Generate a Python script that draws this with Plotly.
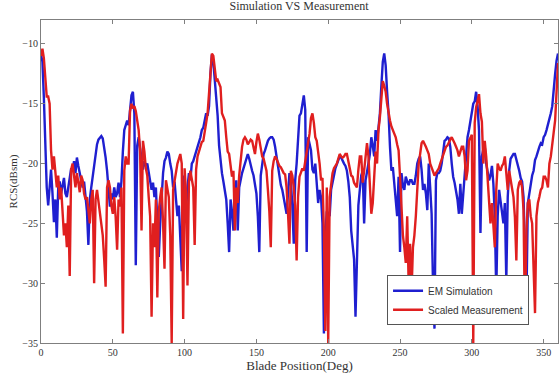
import plotly.graph_objects as go

deg = list(range(0, 361))

em_simulation = [
    -10.9, -11.5, -14.5, -18.0, -22.0, -23.5, -21.5, -20.5, -22.5, -24.9,
    -23.0, -26.2, -22.0, -21.5, -22.5, -21.8, -21.2, -22.5, -22.8, -22.0,
    -21.0, -20.4, -20.6, -19.8, -20.8, -19.5, -20.2, -20.8, -21.4, -22.0,
    -21.5, -22.5, -24.0, -26.8, -23.0, -22.0, -21.0, -20.0, -19.0, -18.4,
    -18.0, -17.8, -17.7, -17.9, -18.6, -19.5, -20.6, -22.0, -23.6, -22.5,
    -23.0, -22.0, -22.8, -22.5, -21.6, -22.8, -21.5, -19.0, -17.2, -16.8,
    -16.4, -16.8, -15.5, -14.3, -14.0, -15.8, -28.5, -18.5, -17.8, -18.6,
    -19.5, -20.5, -19.8, -20.2, -20.0, -20.8, -21.5, -22.2, -21.6, -22.8,
    -22.0, -24.5, -27.8, -25.0, -22.5, -20.8, -19.8, -19.5, -19.0, -19.2,
    -20.0, -20.6, -22.0, -21.5, -23.0, -24.4, -23.5, -27.0, -29.0, -21.0,
    -22.5, -23.9, -22.0, -20.8, -21.4, -20.0, -19.8, -19.4, -19.0, -18.8,
    -18.2, -17.8, -17.2, -17.0, -16.4, -15.8, -16.0, -15.2, -12.5, -10.9,
    -11.5, -12.8, -14.5, -16.0, -18.5, -20.0, -20.8, -21.5, -22.5, -23.0,
    -25.0, -27.4, -23.0, -24.0, -25.6, -22.5, -21.4, -25.6, -22.0, -21.2,
    -20.8, -20.4, -20.0, -19.6, -19.2, -19.6, -20.2, -20.6, -21.0, -21.7,
    -22.5, -24.4, -27.4, -21.0, -20.0, -19.2, -18.9, -18.4, -18.1, -17.9,
    -17.8, -17.8, -18.0, -18.6, -19.4, -20.6, -21.2, -21.8, -22.2, -22.8,
    -23.3, -24.2, -22.5, -20.8, -21.5, -23.5, -26.7, -21.4, -20.0, -17.5,
    -16.0, -15.8, -14.8, -14.3, -15.5, -27.4, -17.8, -18.3, -18.9, -20.5,
    -20.8, -20.0, -21.5, -23.3, -22.2, -22.8, -25.0, -34.2, -26.0, -24.0,
    -24.2, -24.4, -22.2, -21.4, -21.0, -20.4, -20.0, -19.6, -19.4, -19.5,
    -19.8, -20.0, -20.2, -20.6, -21.5, -22.8, -25.6, -27.0, -28.0, -32.8,
    -27.0, -23.5, -22.2, -21.0, -20.6, -25.0, -21.4, -20.8, -20.0, -19.2,
    -17.8, -18.5, -19.4, -17.2, -18.1, -17.0, -15.8, -13.5, -11.5, -10.8,
    -11.8, -14.0, -15.8, -18.6, -20.6, -20.3, -21.8, -22.8, -24.4, -21.1,
    -27.4, -20.8, -21.8, -22.2, -21.1, -21.5, -21.8, -21.4, -21.4, -21.7,
    -21.7, -21.0, -20.0, -19.6, -19.4, -20.5, -22.2, -21.7, -22.5, -23.9,
    -20.0, -22.0, -24.2, -30.3, -33.8, -21.4, -20.8, -20.8, -20.6, -20.0,
    -19.0, -18.1, -18.0, -17.8, -17.9, -18.6, -20.0, -21.1, -21.6, -22.2,
    -23.0, -24.2, -21.7, -24.2, -22.2, -21.0, -19.4, -17.8, -17.2, -16.5,
    -15.8, -15.0, -14.8, -14.0, -15.2, -17.2, -25.8, -19.4, -18.8, -18.6,
    -20.0, -20.6, -21.4, -21.0, -20.2, -21.7, -24.4, -30.8, -24.4, -22.2,
    -23.0, -23.9, -25.0, -23.3, -29.8, -22.8, -20.6, -19.6, -19.4, -19.2,
    -19.2, -19.6, -20.0, -20.6, -21.2, -21.5, -22.8, -28.3, -31.5, -23.3,
    -22.5, -22.0, -21.0, -20.6, -19.7, -19.4, -18.9, -18.6, -18.3, -18.4,
    -17.8, -17.6, -17.2, -16.8, -16.4, -15.8, -15.2, -13.5, -12.5, -11.4,
    -10.8,
]

scaled_measurement = [
    -11.0, -10.4, -11.2, -13.0, -14.4, -14.4, -15.0, -18.9, -20.5, -19.4,
    -20.5, -22.0, -21.0, -23.0, -22.0, -24.5, -26.0, -25.0, -27.0, -23.5,
    -29.4, -20.5, -20.0, -21.0, -22.0, -20.8, -21.5, -22.4, -21.0, -21.4,
    -22.5, -23.0, -22.8, -24.0, -25.0, -23.0, -22.2, -30.0, -23.0, -22.2,
    -23.2, -24.0, -25.0, -26.0, -28.0, -30.3, -22.0, -21.4, -22.0, -23.5,
    -24.2, -22.8, -24.5, -27.2, -23.0, -23.6, -22.0, -34.2, -20.6, -19.4,
    -20.0, -20.0, -15.6, -15.0, -15.4, -15.2, -15.6, -16.5, -17.2, -19.0,
    -25.6, -18.1, -19.0, -20.4, -21.0, -22.8, -24.4, -32.8, -25.0, -27.0,
    -23.0, -31.2, -24.0, -22.8, -22.0, -25.0, -28.8, -21.4, -22.2, -22.8,
    -26.0, -35.0, -22.2, -21.5, -20.5, -20.0, -19.6, -19.2, -20.0, -33.0,
    -20.4, -22.5, -30.2, -21.6, -20.6, -21.4, -22.0, -26.8, -20.5, -19.4,
    -19.0, -18.6, -18.2, -18.1, -17.5, -16.6, -15.8, -13.9, -12.0, -10.8,
    -11.0, -12.0, -13.1, -13.0, -13.4, -13.6, -15.8, -16.2, -16.4, -17.8,
    -19.0, -19.2, -20.0, -21.1, -20.6, -25.6, -22.0, -23.3, -21.0, -19.5,
    -18.6, -18.0, -17.8, -18.0, -18.4, -18.2, -18.0, -18.1, -18.8, -19.2,
    -18.2, -17.5, -18.0, -18.9, -19.4, -19.6, -20.0, -20.6, -22.2, -24.0,
    -27.0, -20.6, -19.8, -19.4, -19.6, -20.0, -20.2, -20.3, -20.6, -20.8,
    -20.9, -22.0, -24.2, -26.7, -20.6, -21.0, -22.0, -23.5, -28.1, -22.8,
    -21.1, -20.8, -20.4, -20.6, -19.8, -19.4, -18.6, -17.5, -16.2, -15.8,
    -16.6, -17.8, -18.1, -19.0, -20.0, -21.4, -21.2, -25.6, -34.0, -22.0,
    -35.0, -22.8, -21.5, -20.8, -20.4, -20.2, -20.0, -19.6, -19.2, -19.4,
    -19.5, -19.4, -19.2, -19.2, -19.8, -20.6, -21.0, -21.1, -21.6, -21.8,
    -22.0, -20.5, -19.4, -19.4, -21.6, -20.6, -19.4, -18.3, -19.4, -22.0,
    -24.2, -23.3, -21.0, -19.0, -20.0, -17.2, -16.1, -14.5, -13.1, -13.5,
    -14.0, -15.0, -15.8, -16.4, -16.9, -17.2, -17.6, -17.8, -18.4, -18.9,
    -21.1, -23.9, -26.0, -27.0, -28.3, -24.4, -30.0, -26.7, -30.8, -27.0,
    -26.0, -24.4, -22.0, -20.0, -19.2, -18.3, -18.1, -18.3, -18.6, -18.9,
    -19.2, -20.0, -20.4, -20.8, -21.0, -20.8, -20.6, -20.4, -20.0, -19.6,
    -19.2, -19.0, -18.6, -18.5, -18.2, -18.0, -17.8, -18.0, -18.3, -18.6,
    -18.9, -19.4, -19.0, -18.6, -18.6, -19.4, -21.4, -20.6, -18.1, -17.8,
    -17.6, -35.0, -16.6, -15.3, -14.6, -14.2, -15.8, -16.5, -20.0, -18.1,
    -19.4, -21.4, -22.8, -25.0, -23.3, -25.6, -27.0, -22.2, -20.0, -20.4,
    -20.6, -20.2, -20.0, -19.4, -20.6, -22.2, -20.6, -21.4, -22.0, -22.8,
    -24.5, -28.1, -22.2, -21.6, -21.4, -22.0, -23.9, -33.5, -25.6, -23.3,
    -23.0, -24.4, -25.0, -30.0, -32.5, -24.4, -23.3, -22.8, -22.2, -22.0,
    -21.1, -21.1, -21.4, -22.0, -20.0, -19.4, -18.6, -17.4, -16.4, -13.9,
    -11.6,
]

x_ticks = [0, 50, 100, 150, 200, 250, 300, 350]
y_ticks = [-35, -30, -25, -20, -15, -10]

serif = "Liberation Serif, Times New Roman, serif"
axis_col = "#7f7f7f"
text_col = "#333333"

fig = go.Figure()
fig.add_trace(go.Scatter(x=deg, y=em_simulation, mode="lines", name="EM Simulation",
                         line=dict(color="#1f1fd0", width=2.4)))
fig.add_trace(go.Scatter(x=deg, y=scaled_measurement, mode="lines", name="Scaled Measurement",
                         line=dict(color="#e01f1f", width=2.4)))

axis_common = dict(showgrid=False, zeroline=False, showline=True, mirror="ticks",
                   linecolor=axis_col, linewidth=1, ticks="inside", ticklen=4,
                   tickcolor=axis_col, automargin=False,
                   tickfont=dict(family=serif, size=10, color=text_col))

fig.update_layout(
    width=560, height=379,
    margin=dict(l=41, r=2, t=20, b=36),
    paper_bgcolor="white", plot_bgcolor="white",
    title=dict(text="Simulation VS Measurement", x=0.534, xanchor="center", y=0.997, yanchor="top",
               font=dict(family=serif, size=12, color=text_col)),
    xaxis=dict(range=[0, 360], tickvals=x_ticks, **axis_common,
               title=dict(text="Blade Position(Deg)", standoff=0,
                          font=dict(family=serif, size=13, color=text_col))),
    yaxis=dict(range=[-35, -8], tickvals=y_ticks, **axis_common,
               title=dict(text="RCS(dBsm)", standoff=2,
                          font=dict(family=serif, size=11, color=text_col))),
    legend=dict(x=0.944, y=0.055, xanchor="right", yanchor="bottom",
                bgcolor="white", bordercolor="#555555", borderwidth=1,
                font=dict(family="Liberation Sans, Arial, sans-serif", size=10, color=text_col),
                tracegroupgap=0, itemwidth=30),
    showlegend=True,
)

fig.write_html("out.html", config={"displayModeBar": False},
               post_script="document.body.style.margin='0';")
